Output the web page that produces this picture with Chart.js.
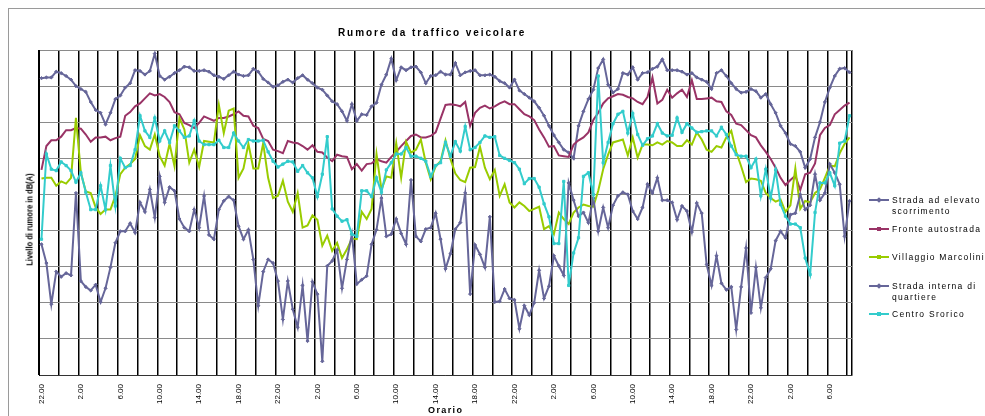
<!DOCTYPE html>
<html>
<head>
<meta charset="utf-8">
<script src="https://cdn.jsdelivr.net/npm/chart.js@4.4.1/dist/chart.umd.min.js"></script>
<style>
  body { margin: 0; background: #fff; }
  #wrap { position: relative; width: 985px; height: 416px; overflow: hidden; font-family: 'Liberation Sans', Arial, sans-serif; color: #000; }
  #frame { position: absolute; left: 8px; top: 8px; width: 1200px; height: 600px; border: 1px solid #9a9a9a; }
  #chart { position: absolute; left: 0; top: 0; }
  #title { position: absolute; left: 338px; top: 27px; font-size: 10px; line-height: 12px; font-weight: bold; letter-spacing: 1.9px; white-space: nowrap; }
  #xtitle { position: absolute; left: 428px; top: 405px; font-size: 9px; line-height: 11px; font-weight: bold; letter-spacing: 1.4px; }
  #ytitle { position: absolute; left: -30px; top: 214px; width: 120px; text-align: center; font-size: 9px; line-height: 11px; font-weight: bold;
            transform: rotate(-90deg) scaleX(0.84); white-space: nowrap; }
  .lg-line { position: absolute; left: 869px; width: 20px; height: 2px; }
  .lg-mark { position: absolute; width: 4px; height: 4px; }
  .lg-text { position: absolute; left: 892px; font-size: 8.5px; line-height: 10.5px; letter-spacing: 1.3px; white-space: nowrap; }
</style>
</head>
<body>
<div id="wrap">
  <div id="frame"></div>
  <canvas id="chart" width="985" height="416"></canvas>
  <div id="title">Rumore da traffico veicolare</div>
  <div id="xtitle">Orario</div>
  <div id="ytitle">Livello di rumore in dB(A)</div>
  <div id="legend"></div>
</div>
<script>
// tick labels shown every 4 hours (one category = half an hour)
const hourLabels = ['22.00', '2.00', '6.00', '10.00', '14.00', '18.00', '22.00', '2.00', '6.00', '10.00', '14.00',
                    '18.00', '22.00', '2.00', '6.00', '10.00', '14.00', '18.00', '22.00', '2.00', '6.00'];

const seriesNames = ['Strada ad elevato scorrimento', 'Fronte autostrada', 'Villaggio Marcolini',
                     'Strada interna di quartiere', 'Centro Srorico'];

// dB(A), one value per half hour, starting 22.00
const elevato = [
  76.1, 76.2, 76.2, 77.0, 76.8, 76.4, 75.9, 75.0, 74.6, 74.2,
  72.8, 71.7, 71.3, 69.7, 71.3, 73.2, 73.7, 74.8, 75.4, 77.2,
  77.1, 76.6, 77.1, 79.5, 76.4, 75.9, 76.3, 76.8, 77.2, 77.7,
  77.6, 77.1, 77.1, 77.2, 77.0, 76.5, 76.3, 76.0, 76.5, 77.0,
  76.6, 76.4, 76.5, 77.4, 77.0, 76.0, 75.5, 74.9, 75.1, 75.6,
  75.9, 75.5, 76.1, 76.5, 75.9, 75.4, 74.8, 74.5, 73.7, 72.9,
  72.5, 71.5, 70.2, 72.5, 70.2, 71.1, 71.0, 72.2, 72.7, 75.2,
  76.6, 78.8, 75.8, 77.6, 77.2, 77.6, 77.7, 76.9, 75.4, 76.4,
  76.5, 77.0, 76.6, 76.6, 78.2, 76.5, 76.9, 77.1, 77.2, 76.5,
  76.5, 76.6, 76.3, 75.7, 75.4, 74.8, 75.9, 74.4, 73.9, 73.4,
  72.9, 72.0, 70.9, 69.5, 68.2, 67.2, 66.2, 65.8, 65.0, 69.5,
  71.5, 73.2, 74.5, 77.5, 78.7, 75.2, 74.1, 74.6, 76.8, 76.6,
  77.6, 75.9, 76.8, 76.9, 77.4, 77.7, 78.7, 77.2, 77.2, 77.2,
  77.0, 76.6, 76.8, 76.2, 75.9, 75.6, 74.6, 76.8, 77.2, 76.4,
  75.4, 74.6, 74.1, 74.2, 74.6, 74.3, 73.4, 73.9, 72.5, 71.3,
  69.5, 68.5, 67.0, 66.7, 65.9, 63.7, 64.9, 67.9, 70.0, 72.8,
  74.8, 76.4, 77.4, 77.5, 76.9
];
const autostrada = [
  63.4, 66.7, 67.5, 67.5, 68.0, 68.9, 68.9, 69.2, 69.1, 68.3,
  67.3, 67.9, 67.9, 68.0, 67.5, 67.8, 68.0, 70.9, 71.4, 72.2,
  72.6, 73.3, 74.0, 73.7, 73.9, 73.5, 72.8, 71.4, 71.1, 69.9,
  69.6, 69.2, 69.9, 70.8, 70.5, 70.2, 70.6, 70.6, 70.8, 71.1,
  71.5, 70.9, 70.8, 69.5, 69.2, 67.7, 67.4, 66.2, 66.0, 65.7,
  67.4, 67.2, 67.1, 66.7, 66.2, 66.8, 65.9, 65.8, 65.1, 64.6,
  65.5, 65.3, 65.2, 63.5, 64.2, 63.3, 64.2, 64.3, 64.9, 64.6,
  64.4, 65.2, 65.9, 66.7, 67.4, 68.1, 68.3, 67.9, 67.9, 68.1,
  68.6, 70.5, 72.4, 72.5, 72.4, 72.2, 72.8, 69.5, 71.3, 72.0,
  72.3, 71.9, 72.2, 72.6, 72.9, 72.5, 72.5, 71.8, 71.1, 70.8,
  70.3, 69.0, 67.9, 66.6, 66.7, 65.4, 65.3, 65.2, 66.9, 67.5,
  67.9, 68.6, 70.3, 71.3, 72.6, 73.3, 73.6, 73.9, 73.8, 73.5,
  73.3, 72.8, 72.5, 73.5, 76.2, 72.6, 73.1, 74.5, 73.4, 74.0,
  74.5, 73.5, 75.8, 73.2, 73.2, 73.3, 73.4, 72.9, 72.8, 71.5,
  71.0, 69.8, 69.6, 68.9, 68.2, 67.9, 66.8, 65.9, 64.9, 63.7,
  62.3, 61.3, 62.0, 62.6, 60.6, 62.8, 63.0, 64.3, 68.2, 69.2,
  69.6, 71.1, 71.7, 72.3, 72.7
];
const marcolini = [
  62.2, 62.3, 62.3, 61.2, 61.8, 61.5, 62.3, 70.6, 63.0, 60.4,
  60.2, 58.2, 57.3, 57.9, 57.9, 59.8, 62.8, 63.7, 64.2, 64.9,
  68.2, 66.7, 66.2, 68.3, 65.3, 64.0, 67.0, 63.9, 70.6, 69.0,
  64.4, 66.2, 63.8, 67.4, 67.3, 67.2, 72.4, 68.5, 71.6, 71.9,
  62.3, 63.6, 67.0, 63.6, 63.6, 67.1, 62.3, 59.5, 59.8, 61.9,
  59.0, 57.6, 60.2, 55.4, 55.7, 57.1, 56.5, 52.9, 54.3, 52.2,
  53.3, 51.2, 52.4, 53.9, 53.8, 57.6, 56.6, 58.0, 65.6, 60.7,
  62.5, 62.3, 67.1, 62.3, 67.3, 65.8, 66.2, 67.6, 64.4, 62.1,
  63.9, 64.6, 67.5, 64.9, 62.9, 62.0, 61.7, 63.7, 63.8, 66.6,
  63.7, 62.1, 63.4, 59.8, 61.4, 58.9, 58.2, 58.9, 58.4, 57.7,
  58.0, 58.3, 55.2, 55.6, 54.5, 57.5, 56.6, 55.9, 57.5, 58.2,
  58.6, 58.4, 58.3, 60.5, 63.5, 65.5, 67.2, 67.4, 67.6, 65.4,
  67.9, 65.1, 66.9, 66.9, 66.8, 67.2, 66.9, 67.4, 67.2, 66.7,
  66.7, 67.5, 66.9, 68.6, 67.6, 66.2, 65.9, 66.7, 66.5, 67.9,
  68.8, 65.9, 63.9, 61.7, 62.2, 62.1, 61.9, 60.2, 59.5, 59.0,
  59.3, 57.6, 58.5, 63.6, 58.0, 59.1, 58.9, 60.2, 60.7, 62.3,
  64.0, 63.9, 65.7, 67.0, 67.9
];
const interna = [
  53.1, 50.5, 44.8, 49.3, 48.6, 49.1, 48.8, 60.2, 48.0, 47.2,
  46.7, 47.5, 45.1, 47.0, 49.9, 53.3, 54.9, 54.9, 56.0, 54.7,
  58.9, 57.6, 60.7, 56.8, 62.5, 58.9, 61.0, 60.5, 56.6, 55.4,
  54.9, 57.9, 55.4, 59.8, 54.4, 53.8, 57.9, 59.1, 59.7, 59.2,
  55.6, 53.8, 55.1, 51.0, 44.6, 49.3, 51.0, 50.5, 48.0, 42.7,
  48.0, 44.1, 41.6, 47.4, 39.7, 47.9, 46.2, 36.9, 50.1, 50.8,
  52.3, 47.0, 51.0, 54.5, 47.6, 48.2, 48.7, 53.1, 55.1, 59.5,
  54.2, 54.5, 56.6, 54.6, 53.1, 62.0, 54.2, 53.5, 55.2, 55.4,
  57.4, 53.8, 49.7, 51.8, 55.2, 56.1, 60.2, 46.2, 53.0, 51.7,
  49.9, 56.9, 45.1, 45.2, 46.9, 45.6, 45.4, 41.4, 44.6, 43.3,
  45.0, 49.5, 45.6, 47.3, 51.5, 50.1, 48.8, 61.6, 59.2, 57.0,
  57.5, 56.1, 59.5, 54.9, 58.2, 55.4, 58.5, 59.8, 60.3, 60.0,
  57.7, 56.6, 58.2, 61.4, 60.2, 62.3, 59.2, 59.2, 58.9, 56.5,
  58.4, 57.7, 54.8, 58.8, 57.4, 50.3, 47.4, 51.5, 47.7, 46.8,
  47.2, 41.3, 47.2, 52.6, 43.6, 49.9, 44.3, 48.5, 49.7, 53.6,
  54.9, 54.0, 57.2, 57.4, 60.0, 57.9, 58.5, 62.8, 59.2, 60.2,
  64.2, 63.0, 61.4, 54.2, 59.1
];
const centroStorico = [
  53.8, 65.6, 63.5, 63.3, 64.5, 64.0, 63.3, 61.7, 63.0, 60.3,
  57.9, 57.9, 61.2, 57.9, 64.0, 58.4, 65.0, 63.7, 64.0, 66.2,
  70.9, 68.8, 67.9, 70.6, 67.4, 68.8, 67.2, 69.5, 68.8, 67.9,
  68.1, 70.2, 67.4, 66.9, 66.9, 66.9, 67.5, 66.5, 66.5, 68.5,
  67.4, 66.5, 67.6, 67.4, 67.4, 67.5, 65.9, 64.6, 63.8, 64.2,
  64.6, 64.5, 63.2, 64.0, 63.0, 62.3, 59.7, 62.8, 68.0, 58.0,
  57.0, 56.3, 56.5, 54.5, 54.2, 60.5, 60.5, 59.7, 62.3, 60.3,
  63.4, 64.4, 65.6, 65.6, 66.5, 65.3, 65.3, 65.0, 64.6, 62.5,
  64.0, 64.4, 67.2, 65.3, 67.3, 66.0, 69.4, 66.2, 66.5, 67.2,
  68.1, 67.9, 68.0, 65.4, 65.0, 64.7, 64.4, 63.5, 61.5, 62.2,
  62.2, 61.0, 58.7, 56.9, 53.2, 53.2, 61.8, 47.4, 51.9, 54.0,
  62.5, 63.0, 60.0, 76.4, 64.4, 67.2, 69.8, 71.1, 71.5, 68.5,
  71.2, 68.3, 66.8, 67.7, 68.1, 69.8, 68.5, 68.1, 68.2, 70.6,
  68.6, 69.8, 69.2, 68.6, 68.7, 68.8, 68.8, 68.1, 69.3, 68.3,
  66.7, 65.5, 65.3, 65.3, 63.7, 64.9, 59.8, 63.5, 59.5, 63.4,
  58.6, 57.0, 55.9, 55.9, 55.4, 51.2, 48.9, 57.5, 61.6, 61.6,
  63.0, 61.2, 67.1, 67.4, 70.9
];

// half-hour categories from 22.00
const categories = [];
for (let i = 0; i < elevato.length; i++) {
    const h = (22 + Math.floor(i / 2)) % 24;
    categories.push(h + (i % 2 ? '.30' : '.00'));
}

const colors = ['#666699', '#993366', '#99CC00', '#666699', '#33CCCC'];
const markers = ['rectRot', 'line', 'triangle', 'rectRot', 'rect'];
const allSeries = [elevato, autostrada, marcolini, interna, centroStorico];

// legend (html), first-line centre y of each entry
const legendTop = [200, 229, 257, 286, 314];
const legendLines = [['Strada ad elevato', 'scorrimento'], ['Fronte autostrada'], ['Villaggio Marcolini'],
                     ['Strada interna di', 'quartiere'], ['Centro Srorico']];
const legend = document.getElementById('legend');
legendLines.forEach((lines, k) => {
    const y = legendTop[k];
    legend.insertAdjacentHTML('beforeend',
        `<div class="lg-line" style="top:${y - 1}px;background:${colors[k]}"></div>` +
        `<div class="lg-mark" style="left:877px;top:${y - 2}px;background:${colors[k]};${markers[k] === 'rectRot' ? 'transform:rotate(45deg);' : ''}"></div>` +
        `<div class="lg-text" style="top:${y - 5}px">${lines.join('<br>')}</div>`);
});

const ctx = document.getElementById('chart').getContext('2d');
const datasets = allSeries.map((data, k) => ({
    label: seriesNames[k],
    data: data,
    borderColor: colors[k],
    backgroundColor: colors[k],
    borderWidth: 2,
    pointStyle: markers[k],
    pointRadius: (k === 1 || k === 2) ? 0 : 1.6,
    pointBorderWidth: 1,
    tension: 0,
    order: 5 - k
}));

new Chart(ctx, {
    type: 'line',
    data: { labels: categories, datasets: datasets },
    options: {
        responsive: false,
        animation: false,
        layout: { padding: { left: 39, top: 50, right: 133, bottom: 0 } },
        plugins: { legend: { display: false }, tooltip: { enabled: false }, title: { display: false } },
        scales: {
            x: {
                offset: true,
                grid: {
                    offset: true,
                    drawTicks: false,
                    lineWidth: 1.5,
                    color: (c) => (c.index === undefined || c.index % 4 === 0) ? '#000' : 'rgba(0,0,0,0)'
                },
                border: { color: '#333', width: 1 },
                ticks: {
                    autoSkip: false,
                    minRotation: 90,
                    maxRotation: 90,
                    padding: 9,
                    color: '#000',
                    font: { family: "'Liberation Sans Narrow', 'Arial Narrow', 'Liberation Sans', sans-serif", size: 8 },
                    callback: (v, i) => i % 8 === 0 ? hourLabels[i / 8] : ''
                },
                afterFit: (s) => { s.height = 41; }
            },
            y: {
                min: 35,
                max: 80,
                ticks: { display: false, stepSize: 5 },
                grid: { color: '#8a8a8a', lineWidth: 1, drawTicks: false },
                border: { color: '#000', width: 1 },
                afterFit: (s) => { s.width = 0; }
            }
        }
    }
});
</script>
</body>
</html>
